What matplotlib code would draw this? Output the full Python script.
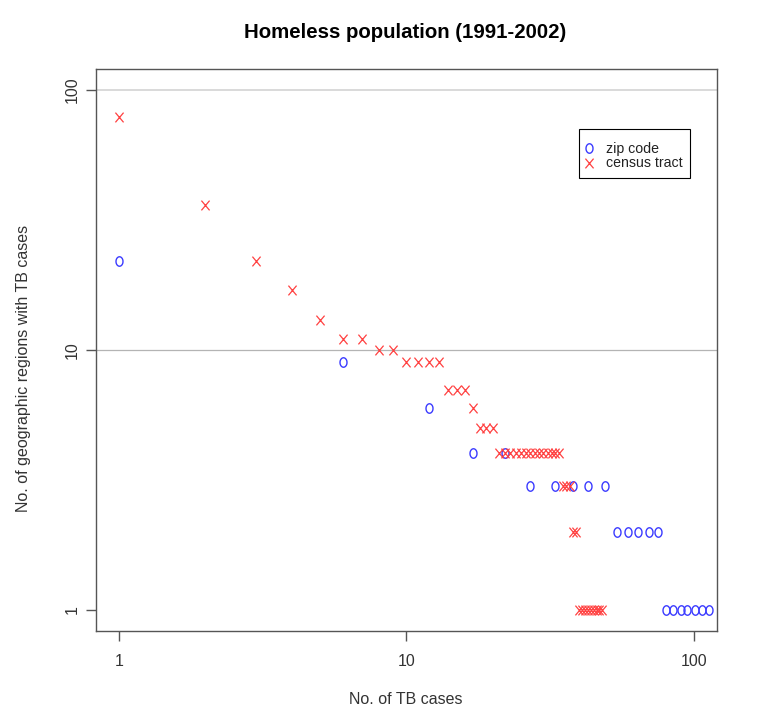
import numpy as np
import matplotlib
matplotlib.use("Agg")
import matplotlib.pyplot as plt
from matplotlib.path import Path
from matplotlib.lines import Line2D
from matplotlib.patches import Rectangle

plt.rcParams["font.family"] = ["Liberation Sans", "DejaVu Sans"]

# Number of TB cases (x) and number of regions with that many cases (y)
zip_cases = [1, 6, 12, 17, 22, 27, 33, 38, 43, 49, 54, 59, 64, 70, 75,
             80, 85, 90, 95, 101, 107, 113]
zip_regions = [22, 9, 6, 4, 4, 3, 3, 3, 3, 3, 2, 2, 2, 2, 2,
               1, 1, 1, 1, 1, 1, 1]

tract_cases = list(range(1, 49))
tract_regions = [79, 36, 22, 17, 13, 11, 11, 10, 10, 9, 9, 9, 9, 7, 7, 7, 6,
                 5, 5, 5, 4, 4, 4, 4, 4, 4, 4, 4, 4, 4, 4, 4, 4, 4,
                 3, 3, 3, 2, 2, 1, 1, 1, 1, 1, 1, 1, 1, 1]

axis_ticks = [1, 10, 100]
tick_labels = ["1", "10", "100"]
grid_levels = [10, 100]
grid_colors = ["#b4b4b4", "#d9d9d9"]
grid_widths = [0.9, 1.4]
legend_labels = ["zip code", "census tract"]

# Character-like markers: an upright oval "o" and a letter-style "x"
t = np.linspace(0, 2 * np.pi, 80)
o_marker = Path(np.column_stack([0.37 * np.cos(t), 0.5 * np.sin(t)]))
x_marker = Path([(-0.42, -0.5), (0.42, 0.5), (-0.42, 0.5), (0.42, -0.5)],
                [Path.MOVETO, Path.LINETO, Path.MOVETO, Path.LINETO])

blue = "#3a3aff"
red = "#ff4040"

W, H = 763, 714
fig = plt.figure(figsize=(W / 100, H / 100), dpi=100)
left, right, top, bottom = 96, 716.7, 69.3, 630.7
ax = fig.add_axes([left / W, 1 - bottom / H, (right - left) / W, (bottom - top) / H])

ax.set_xscale("log")
ax.set_yscale("log")
lo, hi = 10 ** -0.08, 10 ** 2.08
ax.set_xlim(lo, hi)
ax.set_ylim(lo, hi)

for lvl, c, lw in zip(grid_levels, grid_colors, grid_widths):
    ax.axhline(lvl, color=c, lw=lw, zorder=1)

ax.plot(zip_cases, zip_regions, linestyle="none", marker=o_marker,
        markersize=6.8, markerfacecolor="none", markeredgecolor=blue,
        markeredgewidth=1.0, zorder=3)
ax.plot(tract_cases, tract_regions, linestyle="none", marker=x_marker,
        markersize=7.0, markeredgecolor=red, markeredgewidth=0.9, zorder=4)

ax.xaxis.set_major_locator(matplotlib.ticker.FixedLocator(axis_ticks))
ax.yaxis.set_major_locator(matplotlib.ticker.FixedLocator(axis_ticks))
ax.xaxis.set_minor_locator(matplotlib.ticker.NullLocator())
ax.yaxis.set_minor_locator(matplotlib.ticker.NullLocator())
ax.set_xticklabels(tick_labels)
ax.set_yticklabels(tick_labels, rotation=90, va="center")

ax.tick_params(axis="both", length=7, width=1.0, color="#555555",
               labelsize=11.5, labelcolor="#333333")
ax.tick_params(axis="x", pad=10)
ax.tick_params(axis="y", pad=5)
for s in ax.spines.values():
    s.set_color("#555555")
    s.set_linewidth(1.0)

# Legend: entries without frame, plus a separately drawn box
handles = [
    Line2D([], [], linestyle="none", marker=o_marker, markersize=6.8,
           markerfacecolor="none", markeredgecolor=blue, markeredgewidth=1.0),
    Line2D([], [], linestyle="none", marker=x_marker, markersize=7.0,
           markeredgecolor=red, markeredgewidth=0.9),
]
leg = ax.legend(handles, legend_labels, loc="upper left",
                bbox_to_anchor=(585.5 / W, 1 - 141.5 / H),
                bbox_transform=fig.transFigure,
                borderaxespad=0, borderpad=0, frameon=False,
                fontsize=10.2, handlelength=0.5, handletextpad=0.95,
                labelspacing=0.07)
for txt in leg.get_texts():
    txt.set_color("#222222")
fig.patches.append(Rectangle((579 / W, 1 - 178 / H), (690 - 579) / W, (178 - 129) / H,
                             transform=fig.transFigure, fill=False,
                             edgecolor="black", linewidth=0.8, zorder=5))

fig.text(405 / W, 1 - 32 / H, "Homeless population (1991-2002)", ha="center",
         va="center", fontsize=14.7, fontweight="bold", color="black")
fig.text(406 / W, 1 - 700 / H, "No. of TB cases", ha="center", va="center",
         fontsize=11.5, color="#333333")
fig.text(23.5 / W, 1 - 368 / H, "No. of geographic regions with TB cases",
         ha="center", va="center", rotation=90, fontsize=11.5, color="#333333")

fig.savefig("out.png", dpi=100, facecolor="white")
